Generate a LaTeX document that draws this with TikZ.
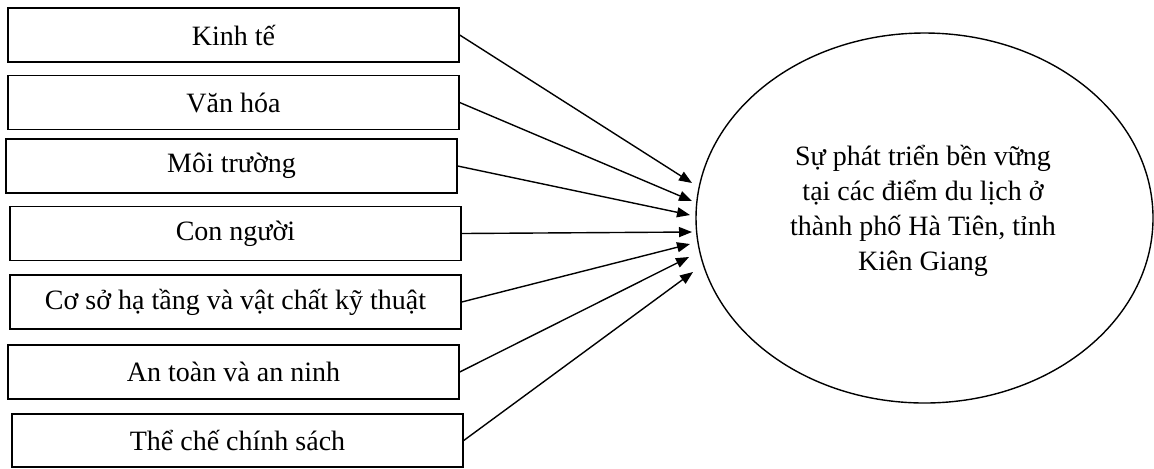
\documentclass[tikz,border=0pt]{standalone}
\usepackage{fontspec}
\setmainfont{Liberation Serif}
\usetikzlibrary{arrows.meta,shapes.geometric}
\begin{document}
\begin{tikzpicture}[x=0.5pt,y=-0.5pt,
  factor/.style={draw, line width=0.7pt, minimum width=225.5pt, minimum height=27pt, inner sep=0pt,
    font=\fontsize{14}{17.5}\selectfont},
  goalshape/.style={draw, ellipse, line width=0.7pt, minimum width=228.5pt, minimum height=185pt, inner sep=0pt},
  goaltext/.style={align=center, font=\fontsize{14}{17.5}\selectfont, inner sep=0pt},
  link/.style={line width=0.7pt, -{Triangle[length=6.5pt,width=5pt]}}]
\useasboundingbox (0,0) rectangle (1154,468);
\node[factor] (f1) at (233.5,35) {Kinh tế};
\node[factor] (f2) at (233.5,102.5) {Văn hóa};
\node[factor] (f3) at (231.5,166) {Môi trường};
\node[factor] (f4) at (235.5,233.5) {Con người};
\node[factor] (f5) at (235.5,302) {Cơ sở hạ tầng và vật chất kỹ thuật};
\node[factor] (f6) at (233.5,372) {An toàn và an ninh};
\node[factor, minimum height=26.5pt] (f7) at (237.5,440.5) {Thể chế chính sách};
\node[goalshape] (goal) at (924.5,218) {};
\node[goaltext] (goallabel) at (923,211) {Sự phát triển bền vững\\tại các điểm du lịch ở\\thành phố Hà Tiên, tỉnh\\Kiên Giang};
\coordinate (t1) at (692,183);
\coordinate (t2) at (692,201);
\coordinate (t3) at (690,215);
\coordinate (t4) at (692,232);
\coordinate (t5) at (690,244);
\coordinate (t6) at (689,257);
\coordinate (t7) at (693,272);
\draw[link] (f1.east) -- (t1);
\draw[link] (f2.east) -- (t2);
\draw[link] (f3.east) -- (t3);
\draw[link] (f4.east) -- (t4);
\draw[link] (f5.east) -- (t5);
\draw[link] (f6.east) -- (t6);
\draw[link] (f7.east) -- (t7);
\end{tikzpicture}
\end{document}
